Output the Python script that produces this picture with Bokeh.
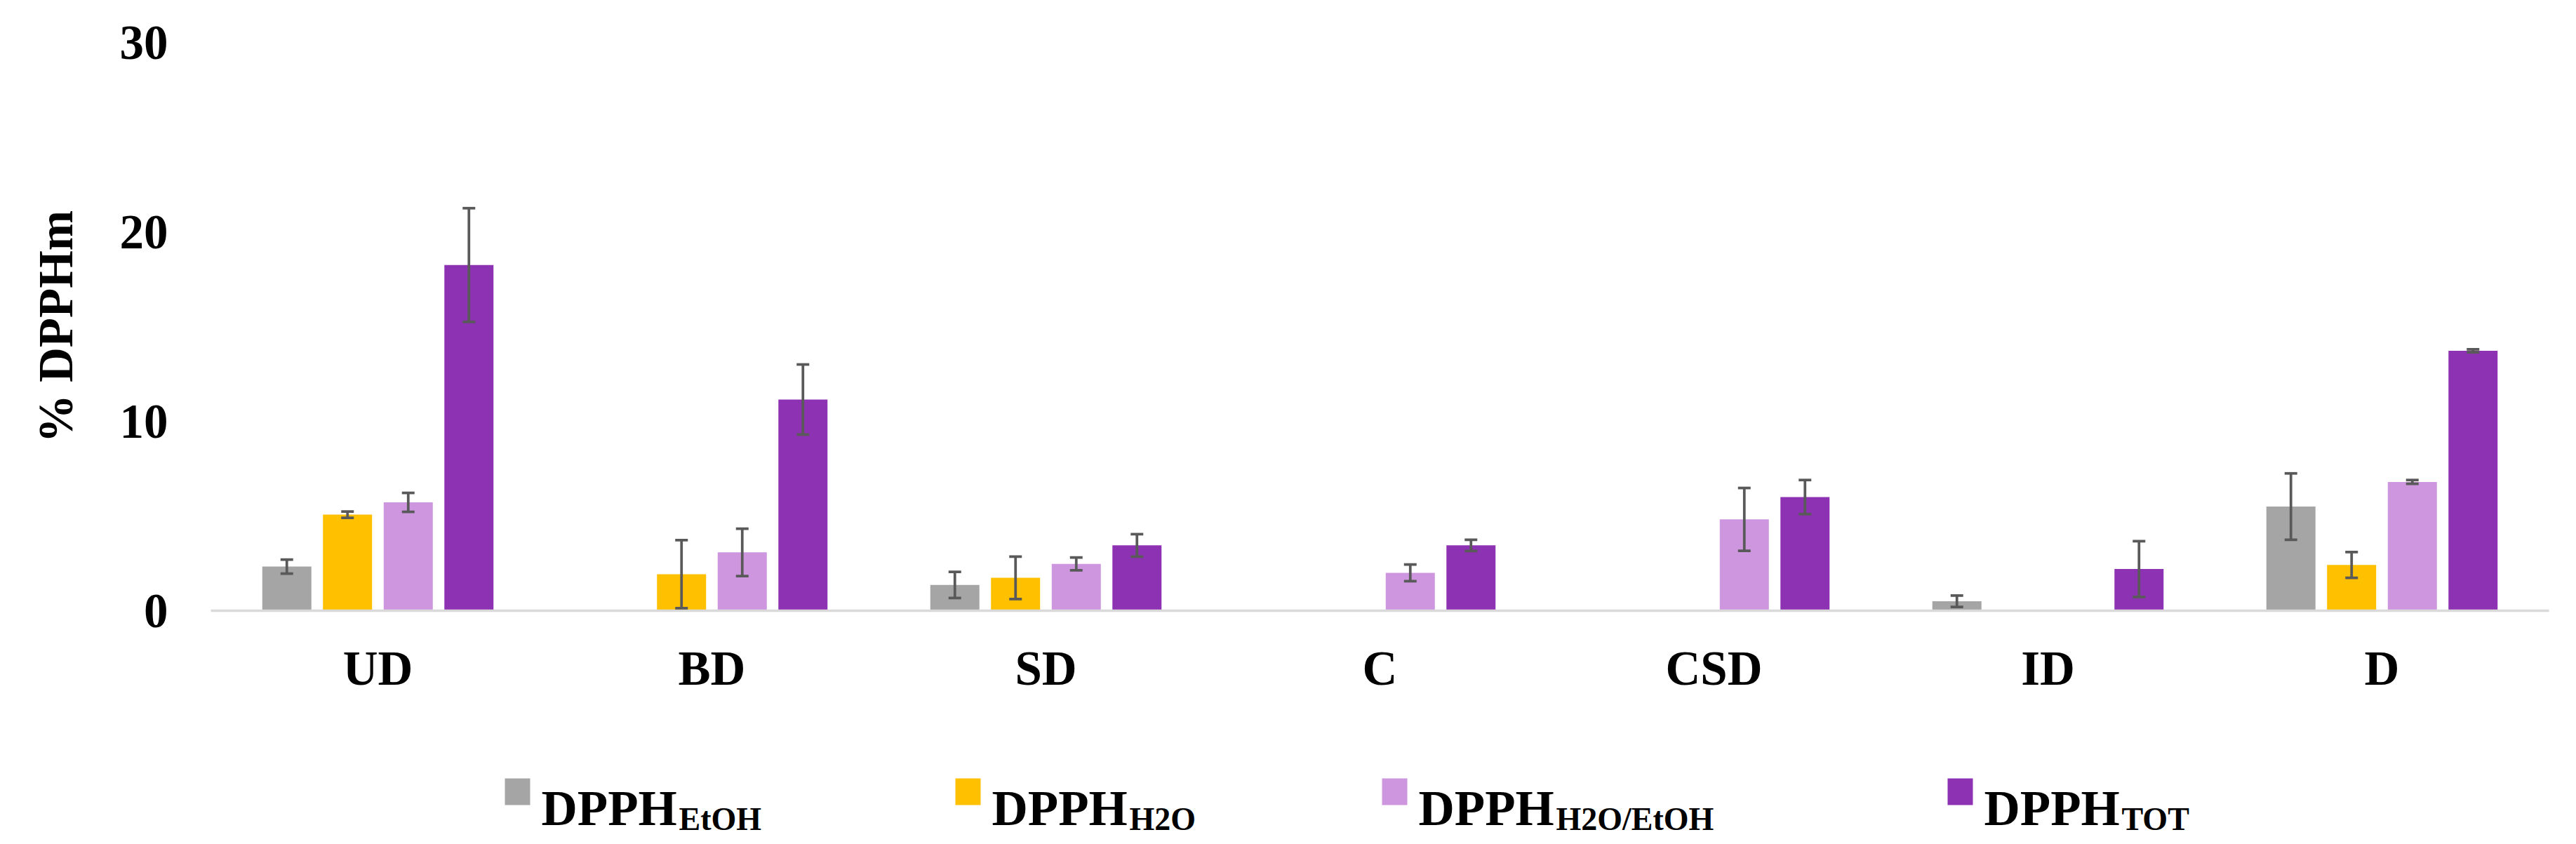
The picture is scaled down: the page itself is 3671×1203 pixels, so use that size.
from bokeh.plotting import figure
from bokeh.models import ColumnDataSource, FactorRange, Range1d, FixedTicker, Whisker, TeeHead
from bokeh.transform import dodge
from bokeh.layouts import column
from bokeh.embed import file_html
from bokeh.resources import INLINE
from bokeh.core.properties import value

nan = float("nan")

categories = ["UD", "BD", "SD", "C", "CSD", "ID", "D"]

# series values (% DPPHm) and error half-widths
etoh = [2.33, nan, 1.36, nan, nan, 0.50, 5.50]
etoh_err = [0.37, nan, 0.69, nan, nan, 0.30, 1.75]
h2o = [5.07, 1.93, 1.74, nan, nan, nan, 2.42]
h2o_err = [0.17, 1.80, 1.12, nan, nan, nan, 0.68]
mix = [5.72, 3.08, 2.47, 2.00, 4.82, nan, 6.80]
mix_err = [0.50, 1.25, 0.34, 0.44, 1.66, nan, 0.10]
tot = [18.25, 11.15, 3.45, 3.45, 6.00, 2.20, 13.72]
tot_err = [3.00, 1.85, 0.59, 0.30, 0.90, 1.47, 0.08]

series_values = [etoh, h2o, mix, tot]
series_errors = [etoh_err, h2o_err, mix_err, tot_err]
legend_main = "DPPH"
legend_subs = ["EtOH", "H2O", "H2O/EtOH", "TOT"]
colors = ["#A5A5A5", "#FFC000", "#CF96E0", "#8E32B4"]
offsets = [-0.2726, -0.0909, 0.0909, 0.2726]
y_ticks = [0, 10, 20, 30]
y_label = "% DPPHm"

FONT = "Liberation Serif"
ERR_COLOR = "#595959"

W = 3660
LEFT, RIGHT = 300, 28

p = figure(
    x_range=FactorRange(*categories, range_padding=0),
    y_range=Range1d(0, 30),
    width=W, height=1000,
    min_border_left=LEFT, min_border_right=RIGHT,
    min_border_top=60, min_border_bottom=130,
    output_backend="svg", toolbar_location=None,
)
p.outline_line_color = None
p.xgrid.visible = False
p.ygrid.visible = False

for vals, errs, col, off in zip(series_values, series_errors, colors, offsets):
    up = [v + e for v, e in zip(vals, errs)]
    lo = [v - e for v, e in zip(vals, errs)]
    src = ColumnDataSource(dict(cat=categories, v=vals, up=up, lo=lo))
    p.vbar(x=dodge("cat", off, range=p.x_range), top="v", bottom=0, width=0.147,
           source=src, fill_color=col, line_color=None)
    wk = Whisker(source=src, base=dodge("cat", off, range=p.x_range), upper="up", lower="lo",
                 dimension="height", line_color=ERR_COLOR, line_width=3.75, level="overlay",
                 upper_head=TeeHead(size=18, line_color=ERR_COLOR, line_width=3.75),
                 lower_head=TeeHead(size=18, line_color=ERR_COLOR, line_width=3.75))
    p.add_layout(wk)

xa = p.xaxis[0]
xa.axis_line_color = "#D9D9D9"
xa.axis_line_width = 3.5
xa.major_tick_line_color = None
xa.major_tick_out = 0
xa.major_tick_in = 0
xa.minor_tick_line_color = None
xa.major_label_standoff = 44
xa.major_label_text_font = FONT
xa.major_label_text_font_style = "bold"
xa.major_label_text_font_size = "69px"
xa.major_label_text_color = "black"

ya = p.yaxis[0]
ya.ticker = FixedTicker(ticks=y_ticks)
ya.axis_line_color = None
ya.major_tick_line_color = None
ya.minor_tick_line_color = None
ya.major_tick_out = 0
ya.major_tick_in = 0
ya.major_label_standoff = 61
ya.major_label_text_font = FONT
ya.major_label_text_font_style = "bold"
ya.major_label_text_font_size = "69px"
ya.major_label_text_color = "black"
ya.axis_label = y_label
ya.axis_label_text_font = FONT
ya.axis_label_text_font_style = "bold"
ya.axis_label_text_font_size = "69px"
ya.axis_label_text_color = "black"
ya.axis_label_standoff = 50

# legend drawn as its own strip (to allow subscripts)
LH = 195
lg = figure(width=W, height=LH, x_range=Range1d(LEFT, W - RIGHT), y_range=Range1d(0, LH),
            x_axis_type=None, y_axis_type=None,
            min_border_left=LEFT, min_border_right=RIGHT, min_border_top=0, min_border_bottom=0,
            output_backend="svg", toolbar_location=None)
lg.outline_line_color = None
lg.grid.visible = False

swatch_left = [719, 1361, 1969, 2775]
sw_x = [s + 18 for s in swatch_left]
txt_x = [s + 52 for s in swatch_left]
sub_x = [t + 196 for t in txt_x]
lg.rect(x=sw_x, y=[67] * 4, width=36, height=38, fill_color=colors, line_color=None)
lg.text(x=txt_x, y=[44] * 4, text=[legend_main] * 4, text_font=value(FONT),
        text_font_style="bold", text_font_size="71px", text_baseline="alphabetic",
        text_align="left", text_color="black")
lg.text(x=sub_x, y=[28] * 4, text=legend_subs, text_font=value(FONT),
        text_font_style="bold", text_font_size="46px", text_baseline="alphabetic",
        text_align="left", text_color="black")

layout = column(p, lg)
open("out.html", "w").write(file_html(layout, INLINE))
